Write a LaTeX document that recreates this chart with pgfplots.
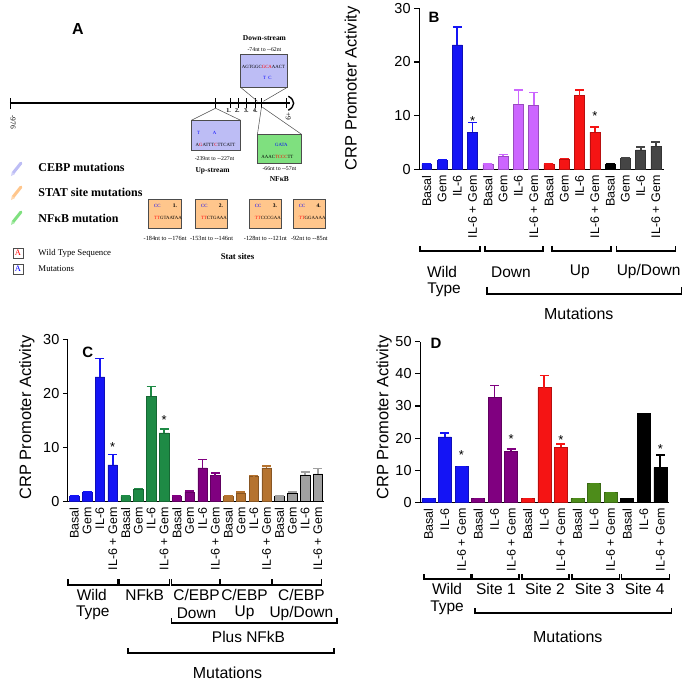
\documentclass[border=0pt]{standalone}
\usepackage{fontspec}
\setmainfont{Liberation Sans}
\newfontfamily\ser{Liberation Serif}
\usepackage{pgfplots}
\pgfplotsset{compat=1.18}

\definecolor{cBlue}{HTML}{1414F5}
\definecolor{cLilac}{HTML}{CC66FF}
\definecolor{cRed}{HTML}{F51414}
\definecolor{cDGray}{HTML}{454545}
\definecolor{cGreen}{HTML}{1E8A45}
\definecolor{cPurple}{HTML}{800080}
\definecolor{cBrown}{HTML}{B5732F}
\definecolor{cLGray}{HTML}{A0A0A0}
\definecolor{cOlive}{HTML}{4D8C1A}
\definecolor{boxBlue}{HTML}{BDBDF5}
\definecolor{boxGreen}{HTML}{7FE07F}
\definecolor{boxOrange}{HTML}{FFC68C}

\newcommand\fs[1]{\fontsize{#1}{#1}\selectfont}
\newcommand\brk[4]{\draw[line width=1.6pt] (#1,#3-#4) -- (#1,#3) -- (#2,#3) -- (#2,#3-#4);}

\pgfplotsset{
  panel/.style={
    scale only axis, ybar, bar shift=0pt, clip=false,
    axis lines=left, axis line style={line width=1.2pt, -},
    ymin=0, tick align=outside, major tick length=5pt,
    xtick style={draw=none}, ytick style={line width=1.2pt, black},
    xticklabel style={rotate=90, anchor=east, font=\fs{12.5}, inner sep=1pt},
    yticklabel style={font=\fs{14.5}},
    /pgf/number format/assume math mode=true,
    enlarge x limits=false,
  },
  err/.style={fill=#1, draw=#1!75!black, line width=0.5pt,
    error bars/y dir=plus, error bars/y explicit,
    error bars/error mark=-,
    error bars/error bar style={#1, line width=1.7pt},
    error bars/error mark options={rotate=90, #1, line width=1.7pt, mark size=4.5pt}},
}

\begin{document}
\begin{tikzpicture}
\begin{scope}[x=1pt,y=-1pt]
\path[use as bounding box] (0,0) rectangle (685,685);
% ---------------- panel A
\node[font=\bfseries\fs{16}] at (78,28) {A};
\draw[line width=1.8pt] (10,102) -- (291,102);
\draw[line width=1.4pt] (289,95) .. controls (296,99) and (296,105) .. (289,109);
\draw[line width=0.8pt] (10,97) -- (10,108);
\foreach \x in {216,231,239,247,256,262,287} \draw[line width=0.6pt] (\x,97) -- (\x,107);
\node[font=\ser\fs{7.5}, rotate=-90] at (13,121) {-976};
\node[font=\ser\fs{7.5}, rotate=-90] at (289,115) {+9};
\foreach \x/\n in {229/1,238/2,247/3,256/4} \node[font=\ser\bfseries\fs{6}] at (\x,109) {\n.};
% down-stream
\draw[fill=boxBlue, draw=black!70, line width=0.5pt] (241,53) rectangle (288,86);
\draw[black!70, line width=0.5pt] (241,86) -- (258,100) (288,86) -- (264,100);
\node[font=\ser\bfseries\fs{7.5}] at (265,37) {Down-stream};
\node[font=\ser\fs{5.8}] at (265,48) {-74nt to --62nt};
\node[font=\ser\fs{4.8}] at (264,66) {AGTGGC\textcolor{red}{GCA}AACT};
\node[font=\ser\fs{4.8}, text=blue] at (268,77) {T\ \ C};
% up-stream
\draw[fill=boxBlue, draw=black!70, line width=0.5pt] (192,119) rectangle (241,149);
\draw[black!70, line width=0.5pt] (192,119) -- (216,107) -- (241,119);
\node[font=\ser\fs{4.8}, text=blue] at (199,132) {T};
\node[font=\ser\fs{4.8}, text=blue] at (215,132) {A};
\node[font=\ser\fs{4.8}] at (216,144) {A\textcolor{red}{G}ATTT\textcolor{red}{C}TTCATT};
\node[font=\ser\fs{5.8}] at (215,157) {-239nt to --227nt};
\node[font=\ser\bfseries\fs{7.5}] at (213,170) {Up-stream};
% NFkB
\draw[fill=boxGreen, draw=black!70, line width=0.5pt] (258,133) rectangle (302,162);
\draw[black!70, line width=0.5pt] (258,133) -- (262,106) (302,133) -- (263,106);
\node[font=\ser\fs{4.8}, text=blue] at (282,144) {GATA};
\node[font=\ser\fs{4.8}] at (278,156) {AAAC\textcolor{red}{TCCC}TT};
\node[font=\ser\fs{5.8}] at (280,168) {-66nt to --57nt};
\node[font=\ser\bfseries\fs{7.5}] at (280,178) {NFκB};
% legend
\foreach \y/\c in {167/boxBlue,191/boxOrange,216/boxGreen}{
  \draw[line width=3pt, \c, line cap=round] (13,\y+5) -- (21,\y-5);
  \fill[\c!70!white] (11,\y+8) -- (12,\y+4) -- (15,\y+6) -- cycle;}
\node[font=\ser\bfseries\fs{12}, anchor=west] at (35,166) {CEBP mutations};
\node[font=\ser\bfseries\fs{12}, anchor=west] at (35,191) {STAT site mutations};
\node[font=\ser\bfseries\fs{12}, anchor=west] at (35,217) {NFκB mutation};
\draw[black!70, line width=0.7pt] (13,247) rectangle (23,257);
\node[font=\ser\fs{8.5}, text=red] at (18,252) {A};
\draw[black!70, line width=0.7pt] (13,263) rectangle (23,273);
\node[font=\ser\fs{8.5}, text=blue] at (18,268) {A};
\node[font=\ser\fs{8.8}, anchor=west] at (35,252) {Wild Type Sequence};
\node[font=\ser\fs{8.8}, anchor=west] at (35,268) {Mutations};
% stat sites
\foreach \xa/\xb/\n/\s/\lab in {149/182/1/GTAATAA/{-184nt to --176nt},196/228/2/CTGAAA/{-153nt to --146nt},250/282/3/CCCGAA/{-128nt to --121nt},294/326/4/GGAAAA/{-92nt to --85nt}}{
  \draw[fill=boxOrange, draw=black!70, line width=0.5pt] (\xa,198) rectangle (\xb,227);
  \node[font=\ser\fs{4.8}, text=blue, anchor=west] at (\xa+2,205) {CC};
  \node[font=\ser\bfseries\fs{5.5}, anchor=east] at (\xb-1,205) {\n.};
  \node[font=\ser\fs{4.8}, anchor=west] at (\xa+2,217) {\textcolor{red}{TT}\s};
  \node[font=\ser\fs{6.3}] at ({(\xa+\xb)/2},237) {\lab};
}
\node[font=\ser\bfseries\fs{8.8}] at (238,256) {Stat sites};
% ---------------- labels of B, C, D
\node[font=\fs{16.5}, rotate=90] at (353,87) {CRP Promoter Activity};
\node[font=\fs{16.5}, rotate=90] at (27,417) {CRP Promoter Activity};
\node[font=\fs{16.5}, rotate=90] at (385,417) {CRP Promoter Activity};
\node[font=\bfseries\fs{15}] at (435,16) {B};
\node[font=\bfseries\fs{15}] at (88,352) {C};
\node[font=\bfseries\fs{15}] at (437,343) {D};
% B brackets
\brk{421}{481}{250}{5} \brk{486}{544}{250}{5} \brk{553}{612}{250}{5} \brk{618}{677}{250}{5}
\brk{488}{683}{293}{7}
\node[font=\fs{15.5}] at (443,271) {Wild};
\node[font=\fs{15.5}] at (445,289) {Type};
\node[font=\fs{15.5}] at (512,271) {Down};
\node[font=\fs{15.5}] at (581,271) {Up};
\node[font=\fs{15.5}] at (650,271) {Up/Down};
\node[font=\fs{16}] at (580,313) {Mutations};
% C brackets
\brk{68}{118}{585}{6} \brk{119}{170}{585}{6} \brk{172}{220}{585}{6} \brk{221}{272}{585}{6} \brk{273}{322}{585}{6}
\brk{172}{338}{623}{5}
\brk{128}{335}{653}{5}
\node[font=\fs{15.5}] at (92,595) {Wild};
\node[font=\fs{15.5}] at (93,613) {Type};
\node[font=\fs{15.5}] at (145,595) {NFkB};
\node[font=\fs{15.5}] at (197,595) {C/EBP};
\node[font=\fs{15.5}] at (245,595) {C/EBP};
\node[font=\fs{15.5}] at (302,595) {C/EBP};
\node[font=\fs{15.5}] at (197,613) {Down};
\node[font=\fs{15.5}] at (245,613) {Up};
\node[font=\fs{15.5}] at (302,613) {Up/Down};
\node[font=\fs{15.5}] at (249,637) {Plus NFkB};
\node[font=\fs{16}] at (228,673) {Mutations};
% D brackets
\brk{425}{472}{579}{5} \brk{473}{520}{579}{5} \brk{523}{570}{579}{5} \brk{573}{621}{579}{5} \brk{623}{671}{579}{5}
\brk{476}{673}{613}{5}
\node[font=\fs{15.5}] at (448,589) {Wild};
\node[font=\fs{15.5}] at (448,608) {Type};
\node[font=\fs{15.5}] at (497,589) {Site 1};
\node[font=\fs{15.5}] at (546,589) {Site 2};
\node[font=\fs{15.5}] at (596,589) {Site 3};
\node[font=\fs{15.5}] at (646,589) {Site 4};
\node[font=\fs{16}] at (569,637) {Mutations};
\end{scope}

% ---------------- panel B
\begin{axis}[panel, at={(420pt,-168pt)}, anchor=south west, width=245pt, height=161pt,
  xmin=-0.5, xmax=15.5, ymax=30, ytick={0,10,20,30}, xtick={0,...,15}, bar width=10pt,
  xticklabels={Basal,Gem,IL-6,IL-6 + Gem,Basal,Gem,IL-6,IL-6 + Gem,Basal,Gem,IL-6,IL-6 + Gem,Basal,Gem,IL-6,IL-6 + Gem}]
\addplot[err=cBlue] table[x=x,y=y,y error=e] {
x y e
0 1.0 0
1 1.6 0.1
2 23.2 3.4
3 6.9 1.8
};
\addplot[err=cLilac] table[x=x,y=y,y error=e] {
x y e
4 1.0 0
5 2.4 0.3
6 12.1 2.7
7 11.9 2.4
};
\addplot[err=cRed] table[x=x,y=y,y error=e] {
x y e
8 1.0 0
9 1.9 0.1
10 13.7 1.1
11 6.9 0.9
};
\addplot[err=black] table[x=x,y=y,y error=e] {
x y e
12 1.0 0
};
\addplot[err=cDGray] table[x=x,y=y,y error=e] {
x y e
13 2.0 0.1
14 3.6 0.5
15 4.3 0.7
};
\node[font=\fs{13}, yshift=-2.5pt] at (axis cs:3,9.4) {*};
\node[font=\fs{13}, yshift=-2.5pt] at (axis cs:11,10.4) {*};
\end{axis}

% ---------------- panel C
\begin{axis}[panel, at={(68pt,-501pt)}, anchor=south west, width=257pt, height=162pt,
  xmin=-0.5, xmax=19.5, ymax=30, ytick={0,10,20,30}, xtick={0,...,19}, bar width=9.5pt,
  xticklabels={Basal,Gem,IL-6,IL-6 + Gem,Basal,Gem,IL-6,IL-6 + Gem,Basal,Gem,IL-6,IL-6 + Gem,Basal,Gem,IL-6,IL-6 + Gem,Basal,Gem,IL-6,IL-6 + Gem}]
\addplot[err=cBlue] table[x=x,y=y,y error=e] {
x y e
0 1.0 0
1 1.7 0.1
2 23.1 3.4
3 6.8 1.9
};
\addplot[err=cGreen] table[x=x,y=y,y error=e] {
x y e
4 1.0 0
5 2.3 0.1
6 19.5 1.8
7 12.7 0.7
};
\addplot[err=cPurple] table[x=x,y=y,y error=e] {
x y e
8 1.0 0
9 1.7 0.2
10 6.2 1.6
11 4.8 0.5
};
\addplot[err=cBrown] table[x=x,y=y,y error=e] {
x y e
12 1.0 0
13 1.6 0.2
14 4.7 0.1
15 6.2 0.4
};
\addplot[err=cLGray, draw=black] table[x=x,y=y,y error=e] {
x y e
16 1.0 0
17 1.6 0.1
18 4.9 0.5
19 5.1 1.0
};
\node[font=\fs{13}, yshift=-2.5pt] at (axis cs:3,10.6) {*};
\node[font=\fs{13}, yshift=-2.5pt] at (axis cs:7,15.5) {*};
\end{axis}

% ---------------- panel D
\begin{axis}[panel, at={(421pt,-502pt)}, anchor=south west, width=249pt, height=161pt,
  xmin=-0.5, xmax=14.5, ymax=50, ytick={0,10,20,30,40,50}, xtick={0,...,14}, bar width=13pt,
  xticklabels={Basal,IL-6,IL-6 + Gem,Basal,IL-6,IL-6 + Gem,Basal,IL-6,IL-6 + Gem,Basal,IL-6,IL-6 + Gem,Basal,IL-6,IL-6 + Gem}]
\addplot[err=cBlue] table[x=x,y=y,y error=e] {
x y e
0 1.2 0
1 20.4 1.3
2 11.2 0
};
\addplot[err=cPurple] table[x=x,y=y,y error=e] {
x y e
3 1.2 0
4 32.8 3.6
5 15.9 0.8
};
\addplot[err=cRed] table[x=x,y=y,y error=e] {
x y e
6 1.2 0
7 35.7 3.8
8 17.1 1.0
};
\addplot[err=cOlive] table[x=x,y=y,y error=e] {
x y e
9 1.2 0
10 5.9 0
11 3.1 0
};
\addplot[err=black] table[x=x,y=y,y error=e] {
x y e
12 1.2 0
13 27.7 0
14 10.8 3.9
};
\node[font=\fs{13}, yshift=-2.5pt] at (axis cs:2,15.6) {*};
\node[font=\fs{13}, yshift=-2.5pt] at (axis cs:5,20.4) {*};
\node[font=\fs{13}, yshift=-2.5pt] at (axis cs:8,20.2) {*};
\node[font=\fs{13}, yshift=-2.5pt] at (axis cs:14,17.3) {*};
\end{axis}
\end{tikzpicture}
\end{document}
